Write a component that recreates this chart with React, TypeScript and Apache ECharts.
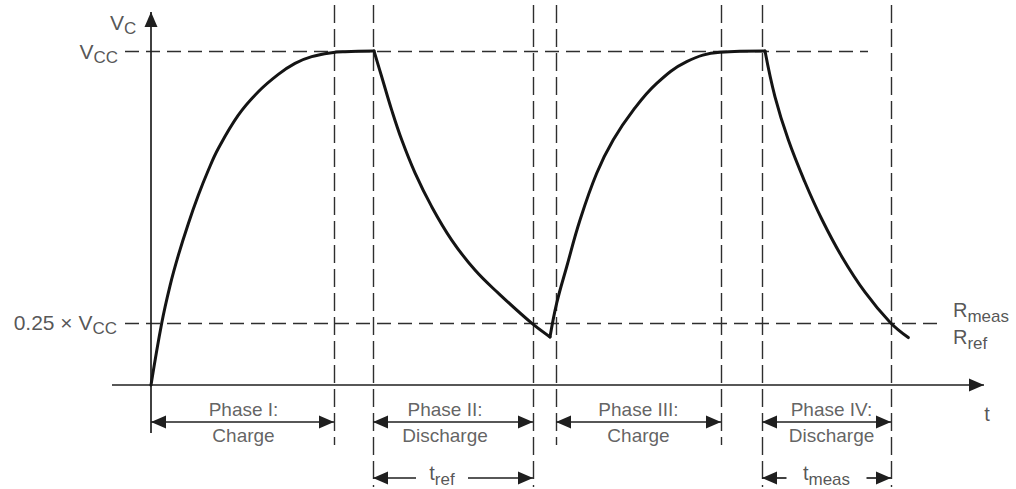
import React, { useEffect, useRef } from "react";
import * as echarts from "echarts";

// ---------------- DATA ----------------
// t: time (arbitrary units), V: capacitor voltage as a fraction of VCC
const chargePhaseI: number[][] = [
  [0, 0], [0.107, 0.185], [0.19, 0.297], [0.273, 0.388], [0.373, 0.483], [0.473, 0.568],
  [0.573, 0.643], [0.673, 0.708], [0.873, 0.808], [1.073, 0.878], [1.273, 0.93],
  [1.44, 0.963], [1.607, 0.983], [1.807, 0.995], [1.94, 0.998], [2.23, 1.0],
];
const dischargePhaseII: number[][] = [
  [2.23, 1.0], [2.307, 0.923], [2.407, 0.823], [2.507, 0.734], [2.64, 0.635], [2.807, 0.534],
  [3.007, 0.434], [3.24, 0.344], [3.473, 0.275], [3.807, 0.185], [3.99, 0.144],
];
const chargePhaseIII: number[][] = [
  [3.99, 0.144], [4.057, 0.245], [4.157, 0.354], [4.29, 0.494], [4.457, 0.634], [4.623, 0.734],
  [4.823, 0.823], [5.057, 0.903], [5.357, 0.968], [5.69, 0.996], [6.14, 1.0],
];
const dischargePhaseIV: number[][] = [
  [6.14, 1.0], [6.24, 0.863], [6.373, 0.734], [6.54, 0.607], [6.707, 0.497], [6.907, 0.385],
  [7.14, 0.278], [7.39, 0.188], [7.573, 0.142],
];

const vccLevel = 1.0;
const thresholdLevel = 0.186; // drawn height of the "0.25 × VCC" reference line
const thresholdLabel = "0.25 × V";
const phaseStart = [0, 2.22, 4.05, 6.11];
const phaseEnd = [1.83, 3.82, 5.7, 7.4];
const phaseTitles = ["Phase I:", "Phase II:", "Phase III:", "Phase IV:"];
const phaseModes = ["Charge", "Discharge", "Charge", "Discharge"];
const timingSubscripts = ["", "ref", "", "meas"];
const thresholdNames = ["meas", "ref"];

// ---------------- LAYOUT ----------------
const W = 1016;
const H = 489;
const PX_X = 100; // px per time unit
const PX_Y = 334; // px per VCC
const ORIGIN_X = 151;
const ORIGIN_Y = 385;
const X_MIN = -ORIGIN_X / PX_X;
const X_MAX = (W - ORIGIN_X) / PX_X;
const Y_MIN = -(H - ORIGIN_Y) / PX_Y;
const Y_MAX = ORIGIN_Y / PX_Y;
const dx = (px: number) => px / PX_X;
const dy = (px: number) => px / PX_Y;

const FONT = "'Liberation Sans', Arial, Helvetica, sans-serif";
const TEXT = "#2a2a2a";
const PHASE_TEXT = "#3a3a3a";
const LINE = "#1f1f1f";

const dashTopV = Y_MAX - dy(5);
const shortBottomV = -dy(60);
const longBottomV = -dy(102);
const dashStartT = -dx(26);
const vccDashEndT = phaseEnd[3] - dx(23);
const thrDashEndT = phaseEnd[3] + dx(51);
const xAxisStartT = -dx(39);
const xAxisTipT = dx(833);
const yAxisBottomV = -dy(48);
const yAxisTipV = Y_MAX - dy(12);
const phaseArrowV = -dy(37);
const timingArrowV = -dy(93);
const phaseLabelDx = [1, -8, 0, 5];
const timingLabelDx = [0, -11, 0, 0];
const timingGapHalf = [0, 26, 0, 40];

const ARROW_SIZE = [13, 15];
const ARROW_OFFSET = [0, 7.5];

function pt(coord: number[], arrow: boolean) {
  if (!arrow) return { coord, symbol: "none" };
  return { coord, symbol: "triangle", symbolSize: ARROW_SIZE, symbolOffset: ARROW_OFFSET };
}
function seg(a: number[], b: number[], arrowA = false, arrowB = false) {
  return [pt(a, arrowA), pt(b, arrowB)];
}

function markLineSeries(name: string, data: any[], lineStyle: any) {
  return {
    type: "line",
    name,
    data: [],
    silent: true,
    z: 5,
    markLine: {
      silent: true,
      animation: false,
      symbol: ["none", "none"],
      symbolSize: ARROW_SIZE,
      label: { show: false },
      emphasis: { disabled: true },
      lineStyle,
      data,
    },
  };
}

function buildOption() {
  const curves = [chargePhaseI, dischargePhaseII, chargePhaseIII, dischargePhaseIV].map((d, i) => ({
    type: "line",
    name: "phase" + i,
    data: d,
    symbol: "none",
    showSymbol: false,
    smooth: 0.4,
    silent: true,
    z: 10,
    lineStyle: { color: "#141414", width: 3, cap: "round", join: "round" },
  }));

  const hDashes = [
    seg([dashStartT, vccLevel], [vccDashEndT, vccLevel]),
    seg([dashStartT, thresholdLevel], [thrDashEndT, thresholdLevel]),
  ];
  const vDashes: any[] = [];
  phaseStart.forEach((s, i) => {
    const bottom = timingSubscripts[i] ? longBottomV : shortBottomV;
    if (i > 0) vDashes.push(seg([s, dashTopV], [s, bottom]));
    vDashes.push(seg([phaseEnd[i], dashTopV], [phaseEnd[i], bottom]));
  });

  const solid: any[] = [
    seg([xAxisStartT, 0], [xAxisTipT, 0], false, true),
    seg([0, yAxisBottomV], [0, yAxisTipV], false, true),
  ];
  phaseStart.forEach((s, i) => solid.push(seg([s, phaseArrowV], [phaseEnd[i], phaseArrowV], true, true)));
  phaseStart.forEach((s, i) => {
    if (!timingSubscripts[i]) return;
    const mid = (s + phaseEnd[i]) / 2 + dx(timingLabelDx[i]);
    const g = dx(timingGapHalf[i]);
    solid.push(seg([s, timingArrowV], [mid - g, timingArrowV], true, false));
    solid.push(seg([mid + g, timingArrowV], [phaseEnd[i], timingArrowV], false, true));
  });

  const labels: any[] = [];
  const lab = (value: number[], formatter: string, align: string, offset: number[]) =>
    labels.push({ value, label: { formatter, align, offset } });

  lab([0, vccLevel], "{m|V}{s|C}", "left", [-41, -27]);
  lab([0, vccLevel], "{m|V}{s|CC}", "right", [-33, 2]);
  lab([0, thresholdLevel], "{m|" + thresholdLabel + "}{s|CC}", "right", [-34, 2]);
  lab([thrDashEndT, thresholdLevel], "{r|R}{s|" + thresholdNames[0] + "}", "left", [11, -10]);
  lab([thrDashEndT, thresholdLevel], "{r|R}{s|" + thresholdNames[1] + "}", "left", [11, 17]);
  lab([xAxisTipT, 0], "{tt|t}", "center", [3, 29]);
  phaseStart.forEach((s, i) => {
    const mid = (s + phaseEnd[i]) / 2;
    lab([mid, 0], "{p|" + phaseTitles[i] + "}", "center", [phaseLabelDx[i], 24]);
    lab([mid, 0], "{p|" + phaseModes[i] + "}", "center", [phaseLabelDx[i], 50]);
    if (timingSubscripts[i]) {
      lab([mid, 0], "{r|t}{s|" + timingSubscripts[i] + "}", "center", [timingLabelDx[i], 90]);
    }
  });

  return {
    animation: false,
    backgroundColor: "#ffffff",
    grid: { left: 0, right: 0, top: 0, bottom: 0, containLabel: false },
    xAxis: { type: "value", min: X_MIN, max: X_MAX, show: false },
    yAxis: { type: "value", min: Y_MIN, max: Y_MAX, show: false },
    series: [
      markLineSeries("hdash", hDashes, { color: "#2e2e2e", width: 1.4, type: [14, 7] }),
      markLineSeries("vdash", vDashes, { color: "#2e2e2e", width: 1.4, type: [18, 6] }),
      markLineSeries("solid", solid, { color: LINE, width: 1.7, type: "solid" }),
      ...curves,
      {
        type: "scatter",
        name: "labels",
        data: labels,
        symbolSize: 1,
        itemStyle: { color: "rgba(0,0,0,0)" },
        silent: true,
        z: 20,
        label: {
          show: true,
          position: "inside",
          fontFamily: FONT,
          color: TEXT,
          rich: {
            m: { fontSize: 21, verticalAlign: "top", fontFamily: FONT, color: TEXT },
            r: { fontSize: 20, verticalAlign: "top", fontFamily: FONT, color: TEXT },
            s: { fontSize: 17, verticalAlign: "top", padding: [8, 0, 0, 0], fontFamily: FONT, color: TEXT },
            tt: { fontSize: 20, fontFamily: FONT, color: TEXT },
            p: { fontSize: 19, fontFamily: FONT, color: PHASE_TEXT },
          },
        },
      },
    ],
  };
}

export default function App() {
  const ref = useRef<HTMLDivElement>(null);
  useEffect(() => {
    if (!ref.current) return;
    const chart = echarts.init(ref.current, null, { renderer: "svg" });
    chart.setOption(buildOption() as any);
    return () => chart.dispose();
  }, []);
  return (
    <div
      ref={ref}
      style={{ position: "fixed", left: 0, top: 0, width: W, height: H, background: "#fff" }}
    />
  );
}
